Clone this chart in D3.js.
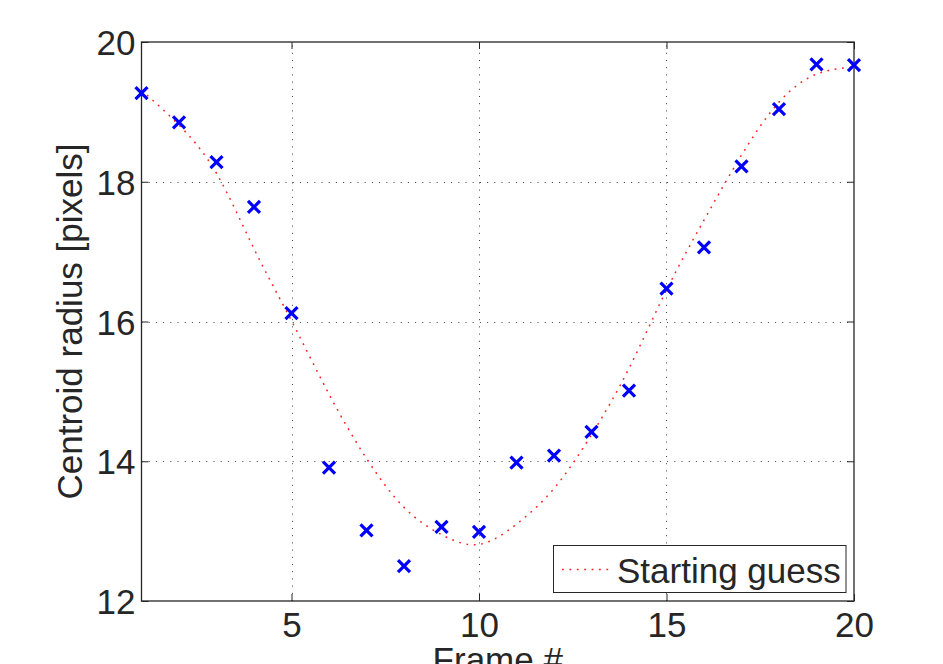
<!DOCTYPE html>
<html>
<head>
<meta charset="utf-8">
<script src="https://cdn.jsdelivr.net/npm/d3@7"></script>
<style>
  body { margin: 0; background: #fff; }
  svg { display: block; font-family: "Liberation Sans", Arial, sans-serif; }
</style>
</head>
<body>
<svg id="chart" width="943" height="664"></svg>
<script>
// frame numbers
var frames = [1,2,3,4,5,6,7,8,9,10,11,12,13,14,15,16,17,18,19,20];
// measured centroid radius (blue crosses)
var measured = [19.27,18.85,18.28,17.64,16.12,13.91,13.01,12.50,13.06,12.99,
                13.98,14.08,14.42,15.01,16.47,17.06,18.22,19.04,19.68,19.67];
// starting guess curve (red dotted)
var guess = [19.31,18.81,18.12,17.04,16.01,14.96,14.04,13.34,12.95,12.81,
             13.10,13.61,14.38,15.33,16.45,17.45,18.38,19.14,19.54,19.64];
var xTicks = [5,10,15,20];
var yTicks = [12,14,16,18,20];
var legendLabel = "Starting guess";

var svg = d3.select("#chart");
var plotLeft = 141.5, plotRight = 854, plotTop = 42, plotBottom = 601;
var fontSize = 35;

var x = d3.scaleLinear().domain([1,20]).range([plotLeft,plotRight]);
var y = d3.scaleLinear().domain([12,20]).range([plotBottom,plotTop]);

svg.append("rect").attr("width",943).attr("height",664).attr("fill","#fff");

// grid (dotted)
var grid = svg.append("g").attr("stroke","#000").attr("stroke-width",1)
  .attr("stroke-dasharray","1,6.2").attr("opacity",0.75);
grid.selectAll("line.gx").data(xTicks.filter(function(d){ return d < 20; }))
  .enter().append("line")
    .attr("x1",function(d){ return Math.round(x(d))+0.5; })
    .attr("x2",function(d){ return Math.round(x(d))+0.5; })
    .attr("y1",plotBottom).attr("y2",plotTop);
grid.selectAll("line.gy").data(yTicks.filter(function(d){ return d > 12 && d < 20; }))
  .enter().append("line")
    .attr("y1",function(d){ return Math.round(y(d))+0.5; })
    .attr("y2",function(d){ return Math.round(y(d))+0.5; })
    .attr("x1",plotLeft).attr("x2",plotRight);

// axes with inward ticks on all four sides
var tickLen = 7;
var axBottom = svg.append("g").attr("transform","translate(0,"+plotBottom+")")
  .call(d3.axisBottom(x).tickValues(xTicks).tickSize(-tickLen).tickPadding(10).tickSizeOuter(0));
var axTop = svg.append("g").attr("transform","translate(0,"+plotTop+")")
  .call(d3.axisTop(x).tickValues(xTicks).tickSize(-tickLen).tickFormat("").tickSizeOuter(0));
var axLeft = svg.append("g").attr("transform","translate("+plotLeft+",0)")
  .call(d3.axisLeft(y).tickValues(yTicks).tickSize(-tickLen).tickPadding(6).tickSizeOuter(0));
var axRight = svg.append("g").attr("transform","translate("+plotRight+",0)")
  .call(d3.axisRight(y).tickValues(yTicks).tickSize(-tickLen).tickFormat("").tickSizeOuter(0));

[axBottom,axTop,axLeft,axRight].forEach(function(a){
  a.select(".domain").remove();
  a.selectAll("line").attr("stroke","#262626").attr("stroke-width",1);
  a.selectAll("text").attr("fill","#262626").style("font-size",fontSize+"px")
    .style("font-family","'Liberation Sans', Arial, sans-serif");
});
axBottom.selectAll("text").attr("dy","0").attr("y",36);
axLeft.selectAll("text").attr("dy","0.36em").attr("x",-6);

// box
svg.append("rect").attr("x",plotLeft).attr("y",plotTop)
  .attr("width",plotRight-plotLeft).attr("height",plotBottom-plotTop)
  .attr("fill","none").attr("stroke","#262626").attr("stroke-width",1.3);

// starting guess curve
var line = d3.line()
  .x(function(d,i){ return x(frames[i]); })
  .y(function(d){ return y(d); })
  .curve(d3.curveNatural);
svg.append("path").datum(guess)
  .attr("d",line).attr("fill","none")
  .attr("stroke","#ff2020").attr("stroke-width",1.5)
  .attr("stroke-dasharray","1.8,5.6");

// measured crosses
var s = 6;
var marks = svg.append("g").attr("stroke","#0000ff").attr("stroke-width",3.2);
marks.selectAll("path").data(measured).enter().append("path")
  .attr("d",function(d,i){
    var cx = x(frames[i]), cy = y(d);
    return "M"+(cx-s)+","+(cy-s)+"L"+(cx+s)+","+(cy+s)+"M"+(cx-s)+","+(cy+s)+"L"+(cx+s)+","+(cy-s);
  });

// axis labels
svg.append("text").attr("x",(plotLeft+plotRight)/2).attr("y",672)
  .attr("text-anchor","middle").attr("fill","#262626")
  .style("font-size",fontSize+"px").text("Frame #");
svg.append("text").attr("transform","translate(82,"+((plotTop+plotBottom)/2)+") rotate(-90)")
  .attr("text-anchor","middle").attr("fill","#262626")
  .style("font-size",fontSize+"px").text("Centroid radius [pixels]");

// legend
var lg = svg.append("g");
lg.append("rect").attr("x",553.5).attr("y",545.5).attr("width",292.5).attr("height",47)
  .attr("fill","#fff").attr("stroke","#262626").attr("stroke-width",1);
lg.append("line").attr("x1",562).attr("x2",609).attr("y1",569.5).attr("y2",569.5)
  .attr("stroke","#ff2020").attr("stroke-width",1.5).attr("stroke-dasharray","1.8,5.6");
lg.append("text").attr("x",617).attr("y",583).attr("fill","#262626")
  .style("font-size",fontSize+"px").text(legendLabel);
</script>
</body>
</html>
